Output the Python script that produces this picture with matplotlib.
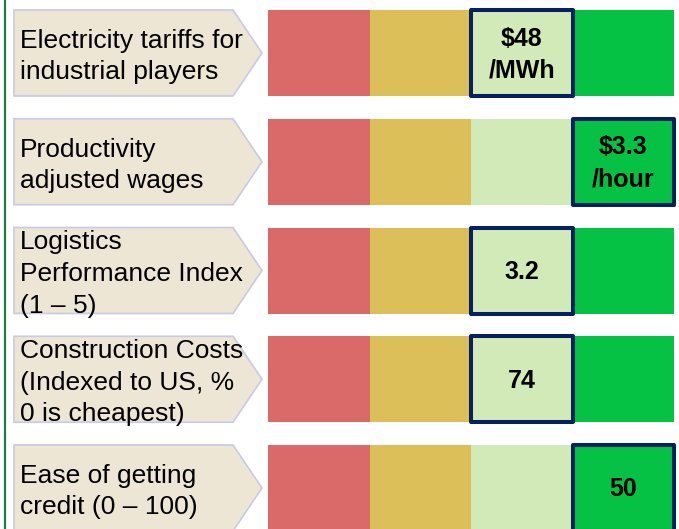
import matplotlib.pyplot as plt
from matplotlib.patches import Polygon

plt.rcParams['font.family'] = ['Liberation Sans', 'DejaVu Sans']

# data
metrics = [
    ["Electricity tariffs for", "industrial players"],
    ["Productivity", "adjusted wages"],
    ["Logistics", "Performance Index", "(1 \u2013 5)"],
    ["Construction Costs", "(Indexed to US, %", "0 is cheapest)"],
    ["Ease of getting", "credit (0 \u2013 100)"],
]
values = [["$48", "/MWh"], ["$3.3", "/hour"], ["3.2"], ["74"], ["50"]]
band = [2, 3, 2, 2, 3]   # which of the 4 bands the country falls in
band_colors = ['#DA6A69', '#DCBF58', '#D2EAB8', '#05C144']

# layout (pixels)
row_top0, row_step, row_h = 10, 108.75, 86
bar_x0, seg_w = 268, 101.5
box_x0, box_x1, tip_x = 14, 233, 262
line_gap = 31.5
navy = '#062060'

fig = plt.figure(figsize=(6.79, 5.29), dpi=100)
ax = fig.add_axes([0, 0, 1, 1])
ax.set_xlim(0, 679)
ax.set_ylim(529, 0)
ax.axis('off')

ax.plot([4.5, 4.5], [0, 529], color='#1E7B4F', lw=1.6, solid_capstyle='butt')

centers = [row_top0 + row_h / 2 + i * row_step for i in range(len(metrics))]

for k, c in enumerate(band_colors):
    ax.barh(centers, seg_w, left=bar_x0 + k * seg_w, height=row_h,
            color=c, linewidth=0)

for i, yc in enumerate(centers):
    top, bot = yc - row_h / 2, yc + row_h / 2
    ax.add_patch(Polygon([(box_x0, top), (box_x1, top), (tip_x, yc),
                          (box_x1, bot), (box_x0, bot)], closed=True,
                         facecolor='#EDE6D4', edgecolor='#C8CAE6', lw=1.2))
    lines = metrics[i]
    n = len(lines)
    for j, t in enumerate(lines):
        ax.text(20, yc + 3.5 + (j - (n - 1) / 2) * line_gap, t, fontsize=19,
                va='center', ha='left', color='black')

    b = band[i]
    bars = ax.barh(yc, seg_w, left=bar_x0 + b * seg_w, height=row_h,
                   facecolor=band_colors[b], edgecolor=navy, linewidth=2.9)
    bars[0].set_joinstyle('round')
    xc = bar_x0 + (b + 0.5) * seg_w
    vl = values[i]
    m = len(vl)
    for j, t in enumerate(vl):
        ax.text(xc, yc + 1.5 + (j - (m - 1) / 2) * 32, t, fontsize=18,
                fontweight='bold', ha='center', va='center', color='black')

fig.savefig('out.png', dpi=100)
